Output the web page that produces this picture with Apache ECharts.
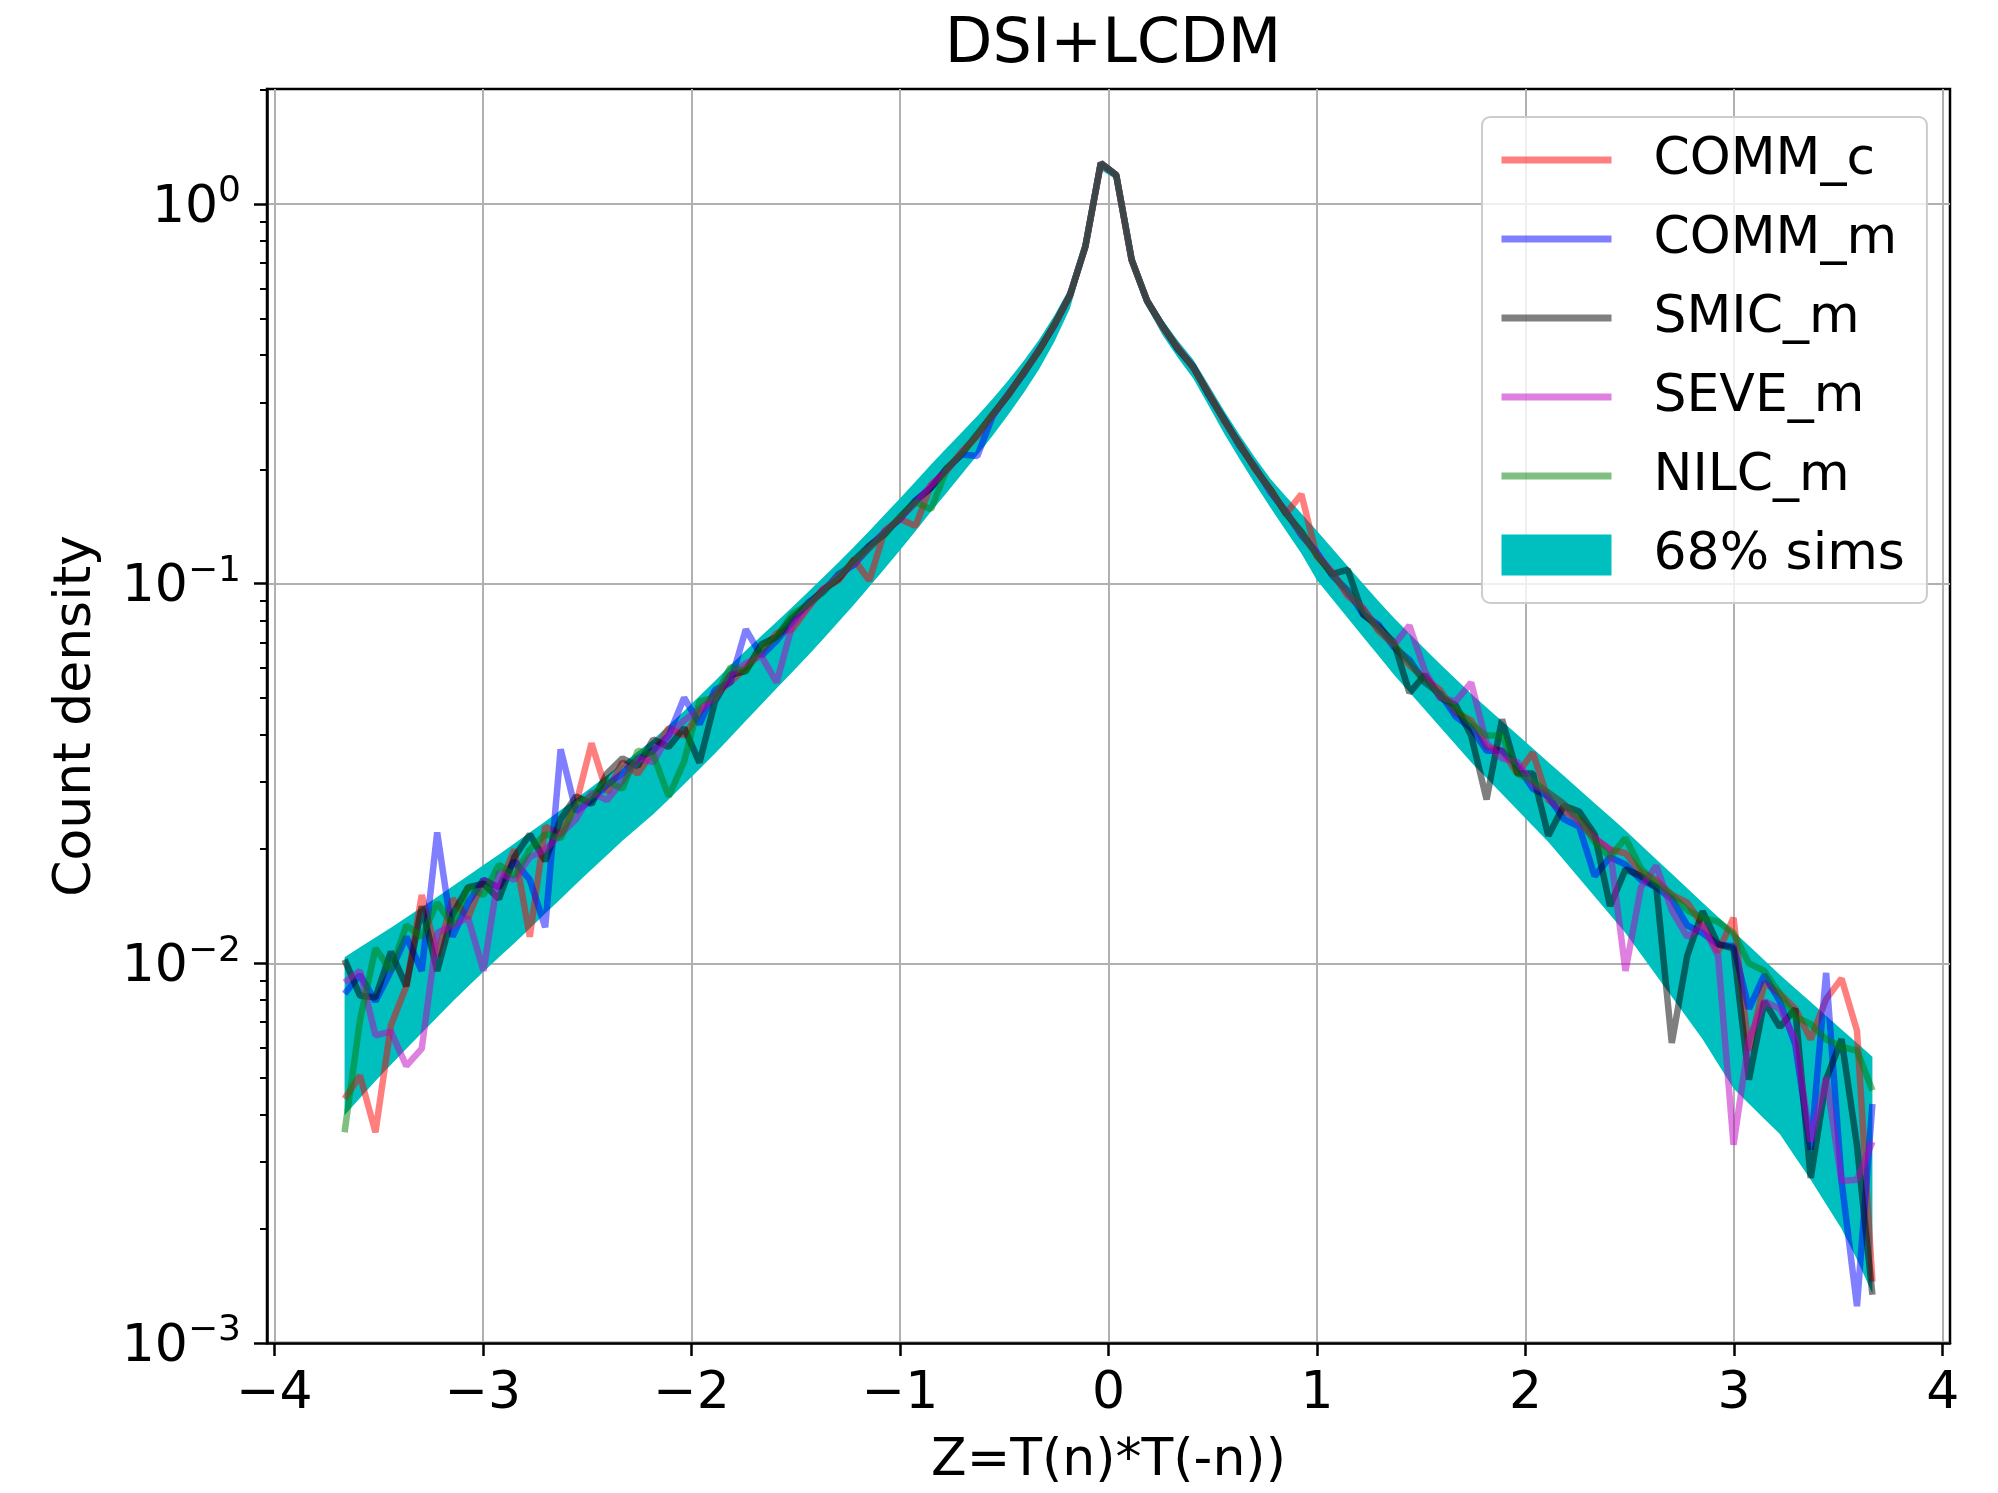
<!DOCTYPE html>
<html>
<head>
<meta charset="utf-8">
<script src="https://cdn.jsdelivr.net/npm/echarts@6/dist/echarts.min.js"></script>
<style>
html,body{margin:0;padding:0;background:#fff;}
#chart{width:1998px;height:1493px;}
</style>
</head>
<body>
<div id="chart"></div>
<script>
// ---- data ----
const binCenters = [-3.663,-3.589,-3.515,-3.441,-3.367,-3.293,-3.219,-3.145,-3.071,-2.997,
-2.923,-2.849,-2.775,-2.701,-2.627,-2.553,-2.479,-2.405,-2.331,-2.257,
-2.183,-2.109,-2.035,-1.961,-1.887,-1.813,-1.739,-1.665,-1.591,-1.517,
-1.443,-1.369,-1.295,-1.221,-1.147,-1.073,-0.999,-0.925,-0.851,-0.777,
-0.703,-0.629,-0.555,-0.481,-0.407,-0.333,-0.259,-0.185,-0.111,-0.037,
0.037,0.111,0.185,0.259,0.333,0.407,0.481,0.555,0.629,0.703,
0.777,0.851,0.925,0.999,1.073,1.147,1.221,1.295,1.369,1.443,
1.517,1.591,1.665,1.739,1.813,1.887,1.961,2.035,2.109,2.183,
2.257,2.331,2.405,2.479,2.553,2.627,2.701,2.775,2.849,2.923,
2.997,3.071,3.145,3.219,3.293,3.367,3.441,3.515,3.589,3.663];

const commC = [0.0044,0.00506,0.00359,0.00686,0.00871,0.01514,0.01047,0.01479,0.01318,0.0166,
0.01585,0.01995,0.01175,0.02291,0.02188,0.0263,0.03802,0.02818,0.03388,0.03162,
0.03631,0.04169,0.03981,0.04571,0.05129,0.05495,0.06026,0.06607,0.07413,0.07586,
0.0860,0.0970,0.1020,0.1160,0.1020,0.1380,0.1480,0.1420,0.1820,0.1980,
0.2230,0.2450,0.2800,0.3130,0.3610,0.4100,0.4830,0.5730,0.7700,1.278,
1.190,0.7100,0.5580,0.4740,0.4190,0.3700,0.3180,0.2680,0.2330,0.2000,
0.1770,0.1530,0.1720,0.1180,0.1070,0.0930,0.0860,0.0750,0.0690,0.0610,
0.05623,0.05248,0.04571,0.04365,0.03715,0.03631,0.03162,0.03589,0.02692,0.02512,
0.02399,0.02138,0.01995,0.0195,0.01738,0.0166,0.01514,0.01445,0.01259,0.01072,
0.01318,0.00589,0.00891,0.00832,0.00759,0.00631,0.00805,0.00912,0.00665,0.00145];

const commM = [0.00832,0.00933,0.00794,0.00955,0.01175,0.00955,0.02213,0.01175,0.01445,0.0166,
0.01585,0.01862,0.0166,0.01245,0.03664,0.02512,0.02692,0.02951,0.03162,0.03467,
0.03631,0.03981,0.05012,0.04266,0.05248,0.05495,0.07586,0.06457,0.07079,0.07943,
0.0890,0.0950,0.1060,0.1120,0.1250,0.1370,0.1480,0.1660,0.1790,0.2000,
0.2190,0.2170,0.2770,0.3160,0.3570,0.4140,0.4790,0.5770,0.7740,1.280,
1.192,0.7140,0.5540,0.4780,0.4150,0.3730,0.3140,0.2710,0.2300,0.2030,
0.1740,0.1550,0.1340,0.1210,0.1050,0.0960,0.0830,0.0780,0.0680,0.0630,
0.05495,0.05129,0.04467,0.04169,0.03631,0.03631,0.03311,0.02884,0.02754,0.02399,
0.02291,0.01698,0.01905,0.0182,0.0166,0.01585,0.01479,0.01259,0.01202,0.01122,
0.01109,0.00759,0.00933,0.00794,0.00611,0.00323,0.00944,0.00267,0.00125,0.00426];

const smicM = [0.01023,0.00822,0.00813,0.01072,0.00871,0.01413,0.00955,0.01349,0.01585,0.01622,
0.01479,0.01905,0.02188,0.01862,0.02399,0.02754,0.0263,0.03162,0.03467,0.03311,
0.0389,0.03715,0.0417,0.0338,0.0490,0.05754,0.05888,0.06918,0.07244,0.08128,
0.0880,0.0962,0.1030,0.1150,0.1260,0.1350,0.1500,0.1650,0.1790,0.2010,
0.2200,0.2480,0.2790,0.3140,0.3600,0.4110,0.4820,0.5750,0.7750,1.285,
1.195,0.7150,0.5560,0.4780,0.4150,0.3720,0.3150,0.2700,0.2330,0.2010,
0.1770,0.1530,0.1370,0.1190,0.1060,0.1090,0.0830,0.0770,0.0700,0.0516,
0.05754,0.05012,0.04786,0.03981,0.02704,0.04395,0.03162,0.03162,0.02168,0.026,
0.02512,0.02188,0.01416,0.0177,0.01698,0.01585,0.00617,0.01047,0.01371,0.01122,
0.01096,0.00494,0.00794,0.00679,0.00759,0.00272,0.00494,0.00631,0.00331,0.00134];

const seveM = [0.00891,0.00955,0.00646,0.00661,0.00537,0.00596,0.01202,0.01259,0.01318,0.00955,
0.01738,0.0166,0.01905,0.01995,0.02188,0.02399,0.02818,0.02692,0.0302,0.03467,
0.03388,0.03981,0.04365,0.04677,0.05012,0.05754,0.06166,0.06457,0.05495,0.07762,
0.0870,0.0960,0.1050,0.1130,0.1240,0.1370,0.1490,0.1630,0.1820,0.1990,
0.2220,0.2460,0.2770,0.3160,0.3580,0.4130,0.4800,0.5760,0.7720,1.280,
1.193,0.7120,0.5570,0.4760,0.4180,0.3710,0.3170,0.2690,0.2320,0.2020,
0.1750,0.1550,0.1350,0.1200,0.1070,0.0940,0.0860,0.0760,0.0690,0.0776,
0.05888,0.05012,0.04898,0.05495,0.03802,0.03467,0.03388,0.02951,0.02818,0.0263,
0.02344,0.02138,0.01995,0.00955,0.01585,0.01807,0.0138,0.01175,0.01259,0.01047,
0.00333,0.00631,0.00794,0.00759,0.00631,0.00339,0.00501,0.00267,0.00269,0.00339];

const nilcM = [0.00359,0.00708,0.01096,0.00955,0.01259,0.01175,0.01445,0.01259,0.01585,0.01514,
0.0182,0.01698,0.01995,0.02188,0.02138,0.0263,0.02754,0.0302,0.02884,0.03631,
0.03548,0.02754,0.0340,0.04898,0.05012,0.06026,0.05888,0.06761,0.07244,0.08318,
0.0880,0.0950,0.1050,0.1140,0.1240,0.1360,0.1500,0.1640,0.1570,0.2000,
0.2210,0.2470,0.2790,0.3150,0.3590,0.4120,0.4810,0.5750,0.7730,1.281,
1.194,0.7130,0.5560,0.4770,0.4170,0.3710,0.3160,0.2700,0.2310,0.2020,
0.1760,0.1540,0.1360,0.1190,0.1060,0.0950,0.0850,0.0760,0.0690,0.0620,
0.05495,0.05129,0.04677,0.04266,0.03981,0.03981,0.03162,0.0302,0.02818,0.0263,
0.02399,0.02089,0.01905,0.02138,0.01778,0.01622,0.01514,0.0138,0.01318,0.01288,
0.01202,0.01,0.00955,0.00832,0.00724,0.00692,0.00631,0.00603,0.00589,0.00463];

const bandUpper = [0.01038,0.01102,0.0117,0.01242,0.01321,0.01406,0.01496,0.01596,0.01702,0.01816,
0.01936,0.0207,0.02213,0.02366,0.02535,0.02716,0.02911,0.03126,0.03357,0.03614,
0.0389,0.04236,0.04624,0.05058,0.05546,0.06095,0.06668,0.07278,0.07943,0.0867,
0.09484,0.1038,0.1138,0.125,0.1377,0.1521,0.1679,0.1858,0.2061,0.2275,
0.2506,0.2767,0.3069,0.3428,0.3864,0.4395,0.5093,0.6026,0.8035,1.288,
1.216,0.7379,0.5781,0.4955,0.4365,0.389,0.3334,0.2851,0.2466,0.2148,
0.1888,0.1698,0.1531,0.138,0.1239,0.1112,0.1,0.08995,0.08128,0.07396,
0.0673,0.06138,0.0561,0.05129,0.04721,0.04345,0.03999,0.03681,0.03388,0.03119,
0.02871,0.02642,0.02432,0.02239,0.02051,0.01879,0.01722,0.01578,0.01445,0.01324,
0.01213,0.01112,0.01019,0.00933,0.00859,0.00791,0.00728,0.0067,0.00617,0.00568];

const bandLower = [0.00398,0.00442,0.0049,0.00541,0.00596,0.00656,0.00721,0.00793,0.00869,0.00951,
0.01038,0.0113,0.01236,0.01353,0.01478,0.01619,0.01766,0.01928,0.02103,0.0228,
0.02471,0.02703,0.02964,0.03251,0.03572,0.03944,0.04354,0.04808,0.05308,0.05847,
0.06456,0.07144,0.07924,0.08809,0.09817,0.1096,0.1227,0.1377,0.1549,0.1734,
0.1946,0.2183,0.2458,0.2787,0.3178,0.3673,0.4345,0.5309,0.7328,1.230,
1.161,0.6887,0.5346,0.4519,0.3936,0.3467,0.2938,0.2483,0.2128,0.1832,
0.1585,0.138,0.1202,0.1023,0.0912,0.08128,0.07244,0.06457,0.05754,0.05176,
0.04656,0.04188,0.03767,0.03388,0.03076,0.02793,0.02535,0.02301,0.02089,0.01871,
0.01675,0.015,0.01343,0.01202,0.01057,0.00929,0.00817,0.00718,0.00631,0.00543,
0.00468,0.00427,0.00389,0.00355,0.00309,0.00269,0.00232,0.002,0.00166,0.00135];

const seriesNames = ['COMM_c','COMM_m','SMIC_m','SEVE_m','NILC_m'];
const bandName = '68% sims';
const xTicks = [-4,-3,-2,-1,0,1,2,3,4];
const yTicks = [0.001,0.01,0.1,1];
const yMinorTicks = [0.002,0.003,0.004,0.005,0.006,0.007,0.008,0.009,
  0.02,0.03,0.04,0.05,0.06,0.07,0.08,0.09,
  0.2,0.3,0.4,0.5,0.6,0.7,0.8,0.9,2];

// ---- chart ----
const FONT = "'DejaVu Sans', sans-serif";
const lineData = [commC, commM, smicM, seveM, nilcM];
const lineColors = ['rgba(255,0,0,0.5)','rgba(0,0,255,0.5)','rgba(0,0,0,0.5)','rgba(191,0,191,0.5)','rgba(0,128,0,0.5)'];

const chart = echarts.init(document.getElementById('chart'), null, {renderer: 'canvas'});

const lineSeries = seriesNames.map(function (name, k) {
  return {
    name: name,
    type: 'line',
    data: binCenters.map(function (x, i) { return [x, lineData[k][i]]; }),
    showSymbol: false,
    symbol: 'none',
    lineStyle: {width: 6.5, color: lineColors[k]},
    itemStyle: {color: lineColors[k]},
    z: 3,
    silent: true,
    animation: false
  };
});

const bandSeries = {
  name: bandName,
  type: 'custom',
  z: 1,
  silent: true,
  animation: false,
  itemStyle: {color: '#00bfbf'},
  data: binCenters.map(function (x, i) { return [x, bandLower[i], bandUpper[i]]; }),
  encode: {x: 0, y: [1, 2]},
  renderItem: function (params, api) {
    if (params.dataIndex !== 0) return null;
    const pts = [];
    for (let i = 0; i < binCenters.length; i++) pts.push(api.coord([binCenters[i], bandUpper[i]]));
    for (let i = binCenters.length - 1; i >= 0; i--) pts.push(api.coord([binCenters[i], bandLower[i]]));
    return {type: 'polygon', shape: {points: pts}, style: {fill: '#00bfbf'}};
  }
};

const option = {
  backgroundColor: '#ffffff',
  animation: false,
  title: {
    text: 'DSI+LCDM',
    left: 1108,
    textAlign: 'center',
    top: 10,
    textStyle: {fontFamily: FONT, fontSize: 62, fontWeight: 'normal', color: '#000'}
  },
  grid: {
    left: 267, right: 48, top: 89, bottom: 150,
    containLabel: false,
    outerBoundsMode: 'none',
    show: true,
    borderColor: '#000',
    borderWidth: 2.5,
    backgroundColor: 'transparent'
  },
  legend: {
    orient: 'vertical',
    left: 1482,
    top: 117,
    padding: [17, 22, 22, 16],
    itemWidth: 110,
    itemHeight: 41,
    itemGap: 27,
    borderColor: '#cccccc',
    borderWidth: 2,
    borderRadius: 8,
    backgroundColor: 'rgba(255,255,255,0.8)',
    selectedMode: false,
    textStyle: {fontFamily: FONT, fontSize: 52, color: '#000', lineHeight: 52, padding: [0, 0, 0, 37]},
    lineStyle: {width: 7},
    itemStyle: {opacity: 0},
    data: seriesNames.map(function (n) { return {name: n}; })
      .concat([{name: bandName, icon: 'rect', itemStyle: {opacity: 1, color: '#00bfbf'}}])
  },
  xAxis: {
    type: 'value',
    min: -4.035,
    max: 4.035,
    name: 'Z=T(n)*T(-n))',
    nameLocation: 'middle',
    nameGap: 92,
    nameTextStyle: {fontFamily: FONT, fontSize: 52, color: '#000'},
    axisLine: {show: true, onZero: false, lineStyle: {color: '#000', width: 2.5}},
    axisTick: {show: true, length: 13, customValues: xTicks, lineStyle: {color: '#000', width: 2.5}},
    axisLabel: {
      customValues: xTicks, margin: 25,
      fontFamily: FONT, fontSize: 52, color: '#000',
      formatter: function (v) { return v < 0 ? '\u2212' + Math.abs(v) : String(v); }
    },
    splitLine: {show: true, lineStyle: {color: '#b0b0b0', width: 2}}
  },
  yAxis: [{
    type: 'log',
    logBase: 10,
    min: 0.001,
    max: 2.01,
    position: 'left',
    name: 'Count density',
    nameLocation: 'middle',
    nameRotate: 90,
    nameGap: 165,
    nameTextStyle: {fontFamily: FONT, fontSize: 52, color: '#000'},
    axisLine: {show: true, onZero: false, lineStyle: {color: '#000', width: 2.5}},
    axisTick: {show: true, length: 13, customValues: yTicks, lineStyle: {color: '#000', width: 2.5}},
    axisLabel: {
      customValues: yTicks, margin: 26,
      formatter: function (v) {
        const e = Math.round(Math.log10(v));
        return '{b|10}{s|' + (e < 0 ? '\u2212' + (-e) : String(e)) + '}';
      },
      rich: {
        b: {fontFamily: FONT, fontSize: 52, color: '#000', lineHeight: 60, verticalAlign: 'bottom'},
        s: {fontFamily: FONT, fontSize: 36, color: '#000', lineHeight: 36, verticalAlign: 'top'}
      }
    },
    splitLine: {show: true, lineStyle: {color: '#b0b0b0', width: 2}}
  }, {
    type: 'log',
    logBase: 10,
    min: 0.001,
    max: 2.01,
    position: 'left',
    offset: 0,
    axisLine: {show: false, onZero: false},
    axisTick: {show: true, length: 7, customValues: yMinorTicks, lineStyle: {color: '#000', width: 2}},
    axisLabel: {show: false},
    splitLine: {show: false}
  }],
  series: [bandSeries].concat(lineSeries)
};

chart.setOption(option);
</script>
</body>
</html>
